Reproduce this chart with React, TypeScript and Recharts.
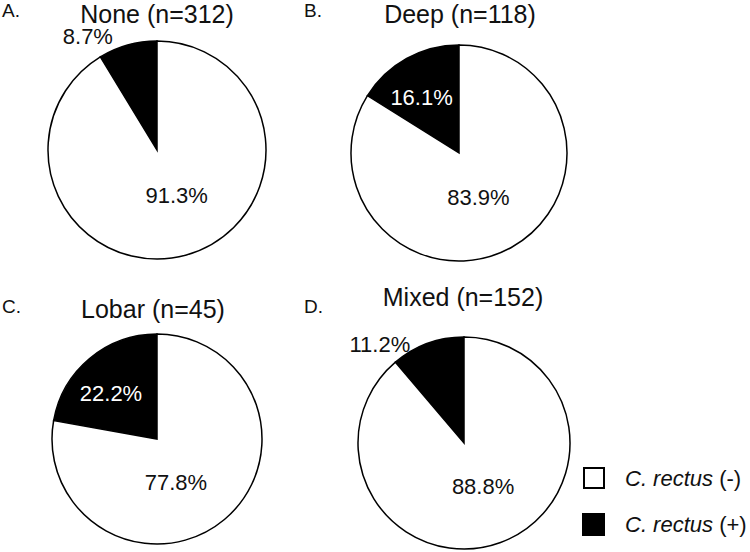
import React from 'react';
import { PieChart, Pie, Cell } from 'recharts';

const groups = ['None (n=312)', 'Deep (n=118)', 'Lobar (n=45)', 'Mixed (n=152)'];
const panelLetters = ['A.', 'B.', 'C.', 'D.'];
const positivePct = [8.7, 16.1, 22.2, 11.2];
const negativePct = [91.3, 83.9, 77.8, 88.8];
const seriesNames = ['C. rectus (+)', 'C. rectus (-)'];
const seriesColors = ['#000000', '#ffffff'];

// layout (positions / sizes only)
const panels = [
  { cx: 157, cy: 150, r: 109, titleX: 157, titleY: 23, letterX: 2, letterY: 17 },
  { cx: 459, cy: 153, r: 108, titleX: 460, titleY: 23, letterX: 304, letterY: 17 },
  { cx: 157, cy: 439, r: 105, titleX: 153, titleY: 318, letterX: 2, letterY: 313 },
  { cx: 464, cy: 443, r: 106, titleX: 463, titleY: 306, letterX: 304, letterY: 313 },
];

const FONT = '"Liberation Sans", Arial, Helvetica, sans-serif';
const RAD = Math.PI / 180;

const fmt = (v: number) => `${v.toFixed(1)}%`;

const renderLabel = (props: any) => {
  const { cx, cy, outerRadius, midAngle, endAngle, index, value } = props;
  let x: number;
  let y: number;
  let fill = '#111';
  if (index === 1) {
    x = cx + 0.18 * outerRadius;
    y = cy + 0.41 * outerRadius;
  } else if (value < 15) {
    const rr = outerRadius + 24;
    x = cx + rr * Math.cos(-endAngle * RAD);
    y = cy + rr * Math.sin(-endAngle * RAD);
  } else {
    const rr = 0.62 * outerRadius;
    const a = midAngle + 5;
    x = cx + rr * Math.cos(-a * RAD);
    y = cy + rr * Math.sin(-a * RAD);
    fill = '#ffffff';
  }
  return (
    <text
      x={x}
      y={y}
      dy="0.36em"
      textAnchor="middle"
      fill={fill}
      fontSize={22}
      fontFamily={FONT}
    >
      {fmt(value)}
    </text>
  );
};

export default function App() {
  const datasets = groups.map((g, i) => [
    { name: seriesNames[0], value: positivePct[i] },
    { name: seriesNames[1], value: negativePct[i] },
  ]);

  return (
    <div style={{ position: 'absolute', left: 0, top: 0, width: 750, height: 552, background: '#fff' }}>
      <PieChart width={750} height={552} margin={{ top: 0, right: 0, bottom: 0, left: 0 }}>
        {datasets.map((d, i) => (
          <Pie
            key={groups[i]}
            data={d}
            dataKey="value"
            nameKey="name"
            cx={panels[i].cx}
            cy={panels[i].cy}
            outerRadius={panels[i].r}
            innerRadius={0}
            startAngle={90}
            endAngle={450}
            stroke="#000"
            strokeWidth={1.5}
            label={renderLabel}
            labelLine={false}
            isAnimationActive={false}
          >
            {d.map((_, j) => (
              <Cell key={j} fill={seriesColors[j]} stroke="#000" strokeWidth={1.5} />
            ))}
          </Pie>
        ))}
      </PieChart>
      <svg
        width={750}
        height={552}
        style={{ position: 'absolute', left: 0, top: 0, pointerEvents: 'none' }}
      >
        {groups.map((g, i) => (
          <g key={g}>
            <text x={panels[i].letterX} y={panels[i].letterY} fontSize={19} fontFamily={FONT} fill="#111">
              {panelLetters[i]}
            </text>
            <text
              x={panels[i].titleX}
              y={panels[i].titleY}
              fontSize={25}
              fontFamily={FONT}
              fill="#111"
              textAnchor="middle"
            >
              {g}
            </text>
          </g>
        ))}
        {/* legend */}
        <rect x={584} y={468} width={20} height={20} fill="#fff" stroke="#000" strokeWidth={2} />
        <text x={625} y={486} fontSize={22} fontFamily={FONT} fill="#111">
          <tspan fontStyle="italic">C. rectus</tspan> (-)
        </text>
        <rect x={582} y={513} width={23} height={23} fill="#000" />
        <text x={625} y={532} fontSize={22} fontFamily={FONT} fill="#111">
          <tspan fontStyle="italic">C. rectus</tspan> (+)
        </text>
      </svg>
    </div>
  );
}
